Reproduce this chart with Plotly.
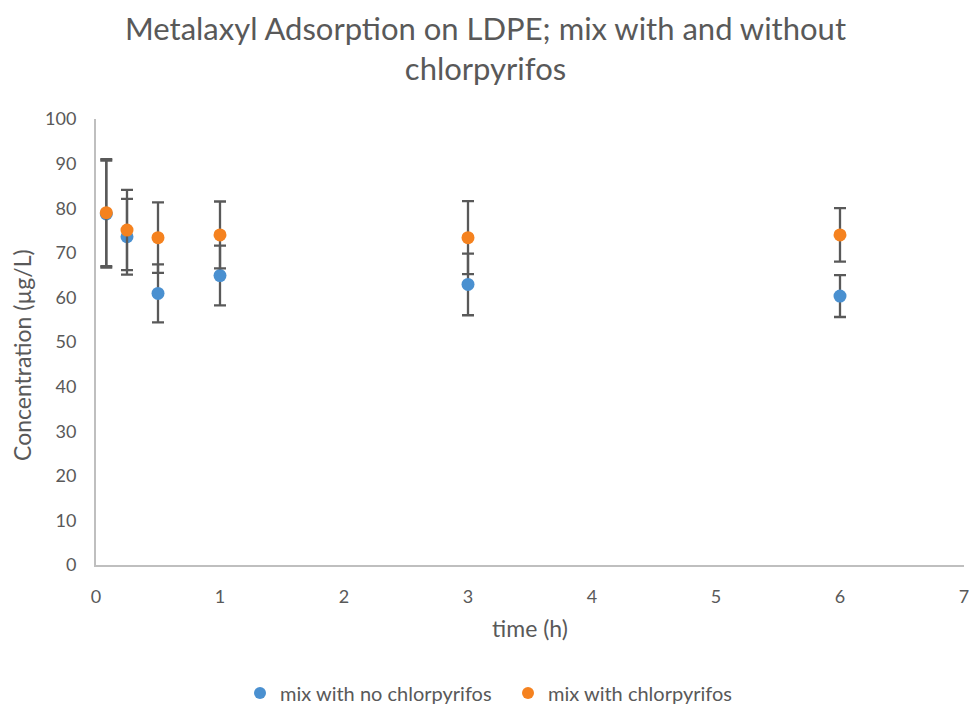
import plotly.graph_objects as go

time_h = [0.083, 0.25, 0.5, 1, 3, 6]
no_chlor = [78.7, 73.6, 60.9, 64.9, 62.9, 60.3]
no_chlor_err = [12.0, 8.5, 6.5, 6.7, 6.9, 4.7]
with_chlor = [79.0, 75.1, 73.4, 74.0, 73.4, 74.0]
with_chlor_err = [12.0, 9.0, 7.9, 7.5, 8.2, 6.0]

grey = "#595959"
fnt = "Lato, Carlito, sans-serif"
W, H = 971, 704
L, R, T, B = 96, 7, 119, 139
fig = go.Figure()
fig.add_trace(go.Scatter(
    x=time_h, y=no_chlor, mode="markers", name="mix with no chlorpyrifos",
    marker=dict(color="#4a90d0", size=13),
    error_y=dict(type="data", array=no_chlor_err, color="#595959", thickness=2.3, width=6),
))
fig.add_trace(go.Scatter(
    x=time_h, y=with_chlor, mode="markers", name="mix with chlorpyrifos",
    marker=dict(color="#f5821f", size=13),
    error_y=dict(type="data", array=with_chlor_err, color="#595959", thickness=2.3, width=6),
))

fig.update_layout(
    width=W, height=H,
    paper_bgcolor="white", plot_bgcolor="white",
    margin=dict(l=L, r=R, t=T, b=B),
    font=dict(family=fnt, color=grey),
    title=dict(text="Metalaxyl Adsorption on LDPE; mix with and without<br>chlorpyrifos",
               x=0.5, xanchor="center", xref="container", yref="container",
               y=1 - 40 / H, yanchor="middle",
               font=dict(size=31, color=grey, family=fnt)),
    xaxis=dict(range=[0, 7], dtick=1, showgrid=False, zeroline=False, automargin=False,
               showline=True, linecolor="#bfbfbf", linewidth=2, ticklabeloverflow="allow",
               tickfont=dict(size=18, color=grey), ticks="", ticklabelstandoff=14,
               title=dict(text="time (h)", font=dict(size=23, color=grey), standoff=15)),
    yaxis=dict(range=[0, 100], dtick=10, showgrid=False, zeroline=False, automargin=False,
               showline=True, linecolor="#bfbfbf", linewidth=2, ticklabelstandoff=14,
               tickfont=dict(size=18, color=grey), ticks=""),
    annotations=[dict(text="Concentration (µg/L)", textangle=-90, showarrow=False,
                      xref="paper", x=0, xanchor="center", xshift=22 - L,
                      yref="paper", y=(H - B - 355) / (H - B - T), yanchor="middle",
                      font=dict(size=23, color=grey, family=fnt))],
    legend=dict(orientation="h", xref="container", x=240 / W, xanchor="left",
                yref="container", y=1 - 693 / H, yanchor="middle",
                font=dict(size=20, color=grey), itemsizing="constant", entrywidth=223),
)
fig.write_html("out.html", config={"displayModeBar": False},
               post_script="document.body.style.margin='0';document.body.style.padding='0';document.body.style.overflow='hidden';")
